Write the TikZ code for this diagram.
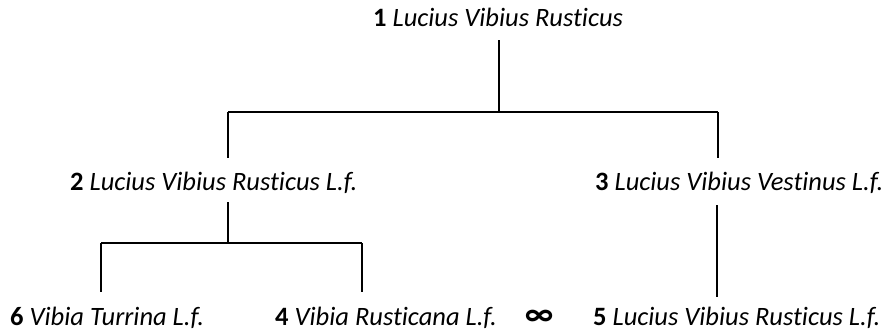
\documentclass[tikz,border=0pt]{standalone}
\usepackage{fontspec}
\setmainfont{Carlito}[Ligatures={NoCommon,TeX}]
\begin{document}
\begin{tikzpicture}[x=1pt,y=-1pt,
  person/.style={anchor=base west,inner sep=0pt,font=\fontsize{26.5}{30}\selectfont},
  link/.style={line width=2.6pt,line cap=butt}]
\useasboundingbox (0,0) rectangle (889,333);
% people of the family tree
\node[person] (n1) at (373,26) {\textbf{1} \textit{Lucius Vibius Rusticus}};
\node[person] (n2) at (70,190) {\textbf{2} \textit{Lucius Vibius Rusticus L.f.}};
\node[person] (n3) at (595,190) {\textbf{3} \textit{Lucius Vibius Vestinus L.f.}};
\node[person] (n6) at (10,325) {\textbf{6} \textit{Vibia Turrina L.f.}};
\node[person] (n4) at (275,325) {\textbf{4} \textit{Vibia Rusticana L.f.}};
\node[person] (n5) at (593,325) {\textbf{5} \textit{Lucius Vibius Rusticus L.f.}};
% marriage sign between 4 and 5
\node[anchor=center,inner sep=0pt,font=\fontsize{34}{34}\selectfont\bfseries] (mar) at (539,318) {∞};
% junction points of the branches
\coordinate (j1) at (499,112);
\coordinate (j1L) at (228,112);
\coordinate (j1R) at (718,112);
\coordinate (j2) at (228,243);
\coordinate (j2L) at (101,243);
\coordinate (j2R) at (362,243);
% branches
\draw[link] ([yshift=-14pt]n1.base -| j1) -- (j1);
\draw[link] (j1L) -- (j1R);
\draw[link] (j1L) -- ([yshift=32pt]n2.base -| j1L);
\draw[link] (j1R) -- ([yshift=32pt]n3.base -| j1R);
\draw[link] ([yshift=-12pt]n2.base -| j2) -- (j2);
\draw[link] (j2L) -- (j2R);
\draw[link] (j2L) -- ([yshift=33pt]n6.base -| j2L);
\draw[link] (j2R) -- ([yshift=33pt]n4.base -| j2R);
\draw[link] ([yshift=-15pt]n3.base -| 717,0) -- ([yshift=28pt]n5.base -| 717,0);
\end{tikzpicture}
\end{document}
